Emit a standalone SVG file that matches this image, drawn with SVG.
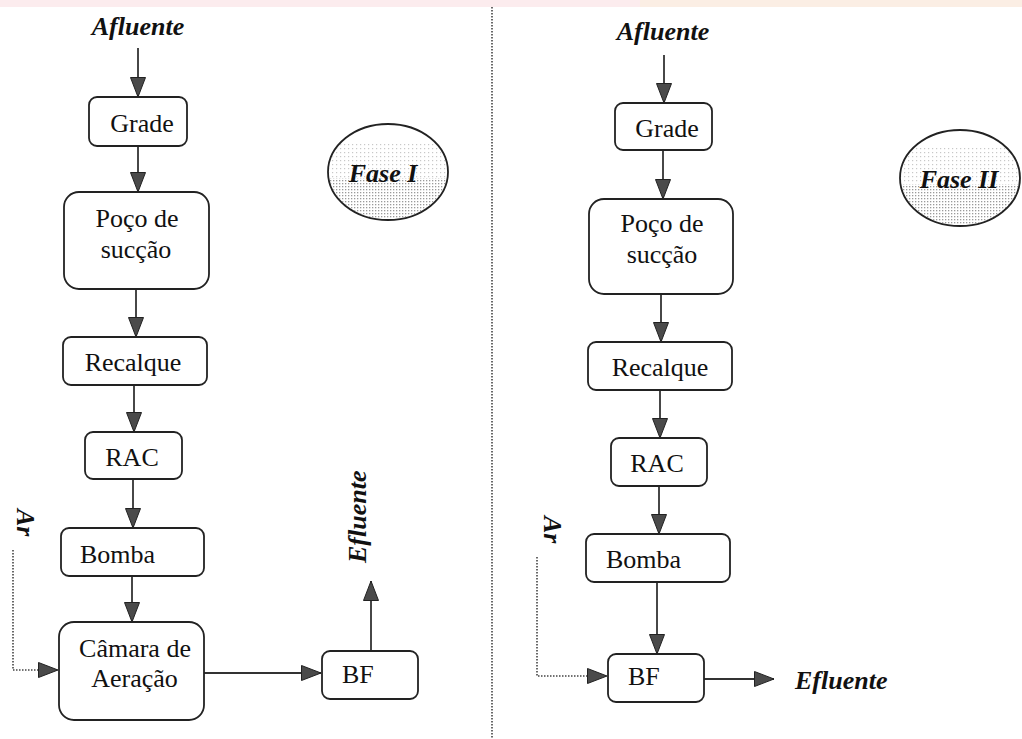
<svg xmlns="http://www.w3.org/2000/svg" width="1022" height="739" viewBox="0 0 1022 739">
<style>
.box{fill:#fff;stroke:#222;stroke-width:1.8}
.t{font-family:"Liberation Serif","Times New Roman",serif;font-size:26px;fill:#111}
.bi{font-family:"Liberation Serif","Times New Roman",serif;font-size:26px;font-weight:bold;font-style:italic;fill:#111}
.c{text-anchor:middle}
.ln{stroke:#333;stroke-width:1.8;fill:none}
.dot{stroke:#444;stroke-width:1.6;fill:none;stroke-dasharray:1.5 1.5}
.ell{fill:none;stroke:#222;stroke-width:1.8}
</style>
<defs>
<marker id="ah" markerUnits="userSpaceOnUse" markerWidth="22" markerHeight="18" refX="20" refY="8" orient="auto">
<path d="M0.5,0.5 L20,8 L0.5,15.5 Z" fill="#4a4a4a" stroke="#222" stroke-width="1"/>
</marker>
<pattern id="light" width="4" height="4" patternUnits="userSpaceOnUse"><rect width="1.2" height="1.2" fill="#c8c8c8"/></pattern>
<pattern id="dense" width="3" height="3" patternUnits="userSpaceOnUse"><rect width="1.3" height="1.3" fill="#9a9a9a"/></pattern>
<clipPath id="c1"><ellipse cx="388" cy="172" rx="59" ry="47"/></clipPath>
<clipPath id="c2"><ellipse cx="960" cy="178" rx="59" ry="47"/></clipPath>
</defs>
<rect width="1022" height="739" fill="#fff"/>
<rect x="0" y="0" width="1022" height="7" fill="#fcecee"/>
<rect x="640" y="0" width="382" height="7" fill="#fbeee4"/>

<g id="divider"><line class="dot" x1="492" y1="7" x2="492" y2="739"/></g>

<g id="connectors">
<line class="ln" x1="138" y1="48" x2="138" y2="97" marker-end="url(#ah)"/>
<line class="ln" x1="138" y1="146" x2="138" y2="192" marker-end="url(#ah)"/>
<line class="ln" x1="136" y1="289" x2="136" y2="337" marker-end="url(#ah)"/>
<line class="ln" x1="134" y1="385" x2="134" y2="432" marker-end="url(#ah)"/>
<line class="ln" x1="133" y1="479" x2="133" y2="528" marker-end="url(#ah)"/>
<line class="ln" x1="132" y1="576" x2="132" y2="622" marker-end="url(#ah)"/>
<line class="ln" x1="204" y1="673" x2="321" y2="673" marker-end="url(#ah)"/>
<line class="ln" x1="371" y1="651" x2="371" y2="581" marker-end="url(#ah)"/>
<path class="dot" d="M13,550 V670 H58" marker-end="url(#ah)"/>

<line class="ln" x1="664" y1="55" x2="664" y2="103" marker-end="url(#ah)"/>
<line class="ln" x1="663" y1="150" x2="663" y2="199" marker-end="url(#ah)"/>
<line class="ln" x1="661" y1="294" x2="661" y2="342" marker-end="url(#ah)"/>
<line class="ln" x1="660" y1="390" x2="660" y2="438" marker-end="url(#ah)"/>
<line class="ln" x1="659" y1="486" x2="659" y2="534" marker-end="url(#ah)"/>
<line class="ln" x1="657" y1="582" x2="657" y2="654" marker-end="url(#ah)"/>
<line class="ln" x1="704" y1="679" x2="774" y2="679" marker-end="url(#ah)"/>
<path class="dot" d="M537,557 V676 H607" marker-end="url(#ah)"/>
</g>

<g id="labels-left">
<text class="bi c" x="138" y="35">Afluente</text>
<text class="bi" transform="translate(366,563) rotate(-90)">Efluente</text>
<text class="bi" transform="translate(17,509) rotate(90)">Ar</text>
</g>
<g id="labels-right">
<text class="bi c" x="663" y="40">Afluente</text>
<text class="bi" x="795" y="689">Efluente</text>
<text class="bi" transform="translate(544,516) rotate(90)">Ar</text>
</g>

<g id="fase1">
<g clip-path="url(#c1)">
<rect x="320" y="142" width="140" height="36" fill="url(#light)"/>
<rect x="320" y="178" width="140" height="50" fill="url(#dense)"/>
</g>
<ellipse class="ell" cx="388" cy="172" rx="60" ry="48"/>
<text class="bi c" x="383" y="182">Fase I</text>
</g>
<g id="fase2">
<g clip-path="url(#c2)">
<rect x="895" y="148" width="140" height="36" fill="url(#light)"/>
<rect x="895" y="184" width="140" height="50" fill="url(#dense)"/>
</g>
<ellipse class="ell" cx="960" cy="178" rx="60" ry="48"/>
<text class="bi c" x="959" y="188">Fase II</text>
</g>

<g id="grade1"><rect class="box" x="89" y="97" width="98" height="49" rx="8"/><text class="t c" x="142" y="132">Grade</text></g>
<g id="poco1"><rect class="box" x="64" y="192" width="145" height="97" rx="15"/><text class="t c" x="137" y="227">Poço de</text><text class="t c" x="136" y="258">sucção</text></g>
<g id="recalque1"><rect class="box" x="63" y="337" width="144" height="48" rx="8"/><text class="t c" x="133" y="371">Recalque</text></g>
<g id="rac1"><rect class="box" x="85" y="432" width="97" height="47" rx="8"/><text class="t c" x="132" y="466">RAC</text></g>
<g id="bomba1"><rect class="box" x="61" y="528" width="143" height="48" rx="8"/><text class="t" x="80" y="563">Bomba</text></g>
<g id="camara1"><rect class="box" x="59" y="622" width="145" height="98" rx="15"/><text class="t c" x="135" y="657">Câmara de</text><text class="t c" x="134.5" y="687">Aeração</text></g>
<g id="bf1"><rect class="box" x="322" y="651" width="96" height="48" rx="8"/><text class="t" x="342" y="683">BF</text></g>

<g id="grade2"><rect class="box" x="615" y="103" width="97" height="47" rx="8"/><text class="t c" x="667" y="137">Grade</text></g>
<g id="poco2"><rect class="box" x="589" y="199" width="144" height="95" rx="15"/><text class="t c" x="662" y="232">Poço de</text><text class="t c" x="662" y="263">sucção</text></g>
<g id="recalque2"><rect class="box" x="588" y="342" width="144" height="48" rx="8"/><text class="t c" x="660" y="376">Recalque</text></g>
<g id="rac2"><rect class="box" x="611" y="438" width="96" height="48" rx="8"/><text class="t c" x="657" y="472">RAC</text></g>
<g id="bomba2"><rect class="box" x="586" y="534" width="144" height="48" rx="8"/><text class="t" x="606" y="568">Bomba</text></g>
<g id="bf2"><rect class="box" x="608" y="654" width="96" height="48" rx="8"/><text class="t" x="628" y="685">BF</text></g>
</svg>
